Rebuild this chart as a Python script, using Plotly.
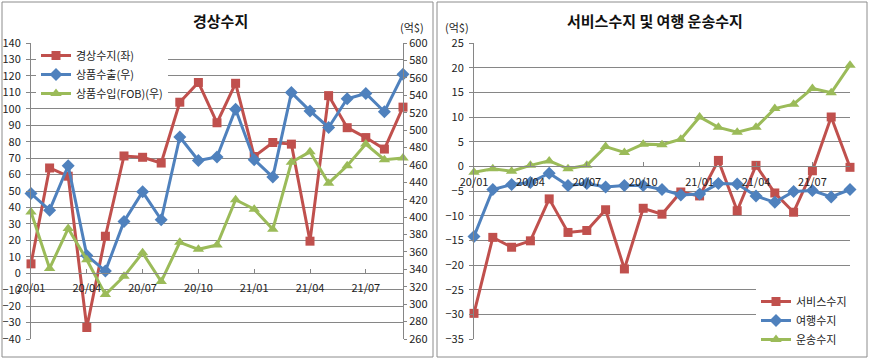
import plotly.graph_objects as go

months = ["20/01", "20/02", "20/03", "20/04", "20/05", "20/06", "20/07", "20/08", "20/09",
          "20/10", "20/11", "20/12", "21/01", "21/02", "21/03", "21/04", "21/05", "21/06",
          "21/07", "21/08", "21/09"]
tick_months = months[::3]

current_account = [5.7, 64, 59, -33, 22.5, 71.3, 70.5, 67, 104, 116, 91.5, 115.5,
                   71, 79.5, 78.5, 19.5, 108, 88.5, 82.5, 75.5, 101]
goods_export = [427, 408, 459, 356, 338, 395, 429, 397, 492, 465, 469, 524,
                466, 446, 543, 522, 503, 536, 542, 521, 564]
goods_import = [406, 341, 387, 351, 311, 332, 359, 326, 371, 363, 368, 420,
                409, 386, 463, 475, 439, 459, 484, 466, 468]

services = [-29.8, -14.4, -16.4, -15.1, -6.6, -13.4, -13.0, -8.8, -20.8, -8.5, -9.7, -5.2,
            -6.0, 1.2, -9.0, 0.2, -5.4, -9.3, -0.9, 10.0, -0.2]
travel = [-14.2, -4.7, -3.7, -3.3, -1.4, -3.9, -3.5, -4.2, -3.9, -3.9, -4.7, -5.8,
          -5.6, -3.5, -3.6, -6.0, -7.3, -5.1, -4.9, -6.2, -4.7]
transport = [-1.2, -0.5, -1.0, 0.2, 1.1, -0.5, 0.2, 4.0, 2.8, 4.5, 4.4, 5.5,
             10.0, 7.9, 6.9, 7.9, 11.7, 12.6, 15.8, 14.9, 20.5]

RED = "#C0504D"
BLUE = "#4F81BD"
GREEN = "#9BBB59"
GRID = "#868686"
FONT = "Noto Sans CJK KR"
W, H = 869, 360


def px_x(p):
    return p / W


def px_y(p):
    return 1 - p / H


fig = go.Figure()

# Left panel
fig.add_trace(go.Scatter(x=months, y=current_account, name="경상수지(좌)", mode="lines+markers",
                         line=dict(color=RED, width=3), marker=dict(symbol="square", size=9, color=RED),
                         xaxis="x", yaxis="y", legend="legend", cliponaxis=False))
fig.add_trace(go.Scatter(x=months, y=goods_export, name="상품수출(우)", mode="lines+markers",
                         line=dict(color=BLUE, width=3), marker=dict(symbol="diamond", size=10, color=BLUE),
                         xaxis="x", yaxis="y2", legend="legend", cliponaxis=False))
fig.add_trace(go.Scatter(x=months, y=goods_import, name="상품수입(FOB)(우)", mode="lines+markers",
                         line=dict(color=GREEN, width=3), marker=dict(symbol="triangle-up", size=10, color=GREEN),
                         xaxis="x", yaxis="y2", legend="legend", cliponaxis=False))

# Right panel
fig.add_trace(go.Scatter(x=months, y=services, name="서비스수지", mode="lines+markers",
                         line=dict(color=RED, width=3), marker=dict(symbol="square", size=9, color=RED),
                         xaxis="x2", yaxis="y3", legend="legend2", cliponaxis=False))
fig.add_trace(go.Scatter(x=months, y=travel, name="여행수지", mode="lines+markers",
                         line=dict(color=BLUE, width=3), marker=dict(symbol="diamond", size=10, color=BLUE),
                         xaxis="x2", yaxis="y3", legend="legend2", cliponaxis=False))
fig.add_trace(go.Scatter(x=months, y=transport, name="운송수지", mode="lines+markers",
                         line=dict(color=GREEN, width=3), marker=dict(symbol="triangle-up", size=10, color=GREEN),
                         xaxis="x2", yaxis="y3", legend="legend2", cliponaxis=False))

ydom = [px_y(339), px_y(43)]
left_lo, left_hi = -40, 140
right_lo, right_hi = -35, 25
pos_x1 = ydom[0] + (0 - left_lo) / (left_hi - left_lo) * (ydom[1] - ydom[0])
pos_x2 = ydom[0] + (0 - right_lo) / (right_hi - right_lo) * (ydom[1] - ydom[0])

tickfont = dict(family=FONT, size=11, color="#222222")

xcommon = dict(type="category", range=[0, 20], tickmode="array", tickvals=tick_months,
               ticktext=tick_months, showgrid=False, showline=True, linecolor=GRID,
               ticks="inside", ticklen=4, tickcolor=GRID, tickfont=tickfont,
               anchor="free", ticklabelstandoff=5, zeroline=False, automargin=False)

fig.update_layout(
    width=W, height=H, autosize=False,
    margin=dict(l=0, r=0, t=0, b=0, pad=0, autoexpand=False),
    paper_bgcolor="white", plot_bgcolor="white",
    font=dict(family=FONT, size=11, color="#222222"),
    xaxis=dict(domain=[px_x(31), px_x(403)], position=pos_x1, **xcommon),
    xaxis2=dict(domain=[px_x(474), px_x(850)], position=pos_x2, **xcommon),
    yaxis=dict(domain=ydom, range=[left_lo, left_hi], dtick=10, showgrid=True, gridcolor=GRID,
               gridwidth=1, showline=True, linecolor=GRID, ticks="outside", ticklen=4,
               tickcolor=GRID, tickfont=tickfont, zeroline=False, anchor="x", ticklabelstandoff=3,
               automargin=False),
    yaxis2=dict(domain=ydom, range=[260, 600], dtick=20, overlaying="y", side="right",
                showgrid=False, showline=True, linecolor=GRID, ticks="outside", ticklen=3,
                tickcolor=GRID, tickfont=tickfont, zeroline=False, anchor="x", automargin=False),
    yaxis3=dict(domain=ydom, range=[right_lo, right_hi], dtick=5, showgrid=True, gridcolor=GRID,
                gridwidth=1, showline=True, linecolor=GRID, ticks="outside", ticklen=4,
                tickcolor=GRID, tickfont=tickfont, zeroline=False, anchor="x2", ticklabelstandoff=3,
                automargin=False),
    legend=dict(x=px_x(36), y=px_y(41), xanchor="left", yanchor="top", bgcolor="white",
                font=dict(family=FONT, size=11, color="#222222"), tracegroupgap=0,
                itemwidth=30, borderwidth=0),
    legend2=dict(x=px_x(756), y=px_y(287), xanchor="left", yanchor="top", bgcolor="white",
                 font=dict(family=FONT, size=11, color="#222222"), tracegroupgap=0,
                 itemwidth=30, borderwidth=0),
    shapes=[
        dict(type="rect", xref="paper", yref="paper", x0=px_x(2), x1=px_x(433), y0=px_y(357), y1=px_y(2),
             line=dict(color="#8C8C8C", width=1)),
        dict(type="rect", xref="paper", yref="paper", x0=px_x(437), x1=px_x(867), y0=px_y(357), y1=px_y(2),
             line=dict(color="#8C8C8C", width=1)),
    ],
    annotations=[
        dict(text="<b>경상수지</b>", x=px_x(220), y=px_y(20), xref="paper", yref="paper",
             xanchor="center", yanchor="middle",
             showarrow=False, font=dict(family=FONT, size=15, color="#111111")),
        dict(text="<b>서비스수지 및 여행 운송수지</b>", x=px_x(655), y=px_y(20), xref="paper", yref="paper",
             xanchor="center", yanchor="middle",
             showarrow=False, font=dict(family=FONT, size=15, color="#111111")),
        dict(text="(억$)", x=px_x(412), y=px_y(27), xref="paper", yref="paper",
             xanchor="center", yanchor="middle",
             showarrow=False, font=dict(family=FONT, size=11, color="#222222")),
        dict(text="(억$)", x=px_x(457), y=px_y(27), xref="paper", yref="paper",
             xanchor="center", yanchor="middle",
             showarrow=False, font=dict(family=FONT, size=11, color="#222222")),
    ],
    showlegend=True,
)

fig.write_html("out.html", config={"displayModeBar": False},
               post_script="document.body.style.margin='0';document.body.style.overflow='hidden';")
